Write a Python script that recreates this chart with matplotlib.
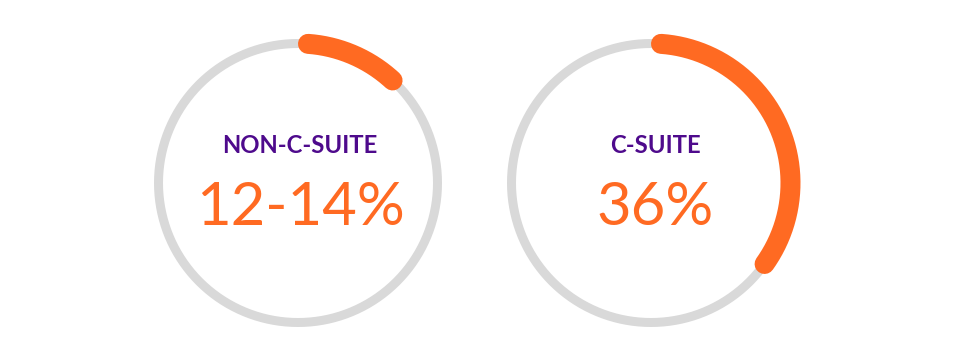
import numpy as np
import matplotlib
matplotlib.use("Agg")
import matplotlib.pyplot as plt

# Data
categories = ["NON-C-SUITE", "C-SUITE"]
values = [13, 36]            # percent of full circle filled
value_labels = ["12-14%", "36%"]

# Style
GRAY = "#D9D9D9"
ORANGE = "#FF6A22"
PURPLE = "#4E0A8C"

W, H = 960, 360
fig = plt.figure(figsize=(W / 100, H / 100), dpi=100)
ax = fig.add_axes([0, 0, 1, 1])
ax.set_xlim(0, W)
ax.set_ylim(H, 0)
ax.set_aspect("equal")
ax.axis("off")

px = 0.72  # points per pixel at dpi 100
ring_centers = [(298, 183), (651, 183)]
text_x = [300, 655]
R = 139.5
gray_w = 9
orange_w = 20
cap_ang = np.degrees((orange_w / 2) / R)

for (cx, cy), tx, cat, val, lab in zip(ring_centers, text_x, categories, values, value_labels):
    t = np.radians(np.linspace(0, 360, 721))
    ax.plot(cx + R * np.sin(t), cy - R * np.cos(t), color=GRAY, lw=gray_w * px,
            solid_capstyle="butt", zorder=1)
    end = val / 100 * 360
    t = np.radians(np.linspace(cap_ang, end - cap_ang, 300))
    ax.plot(cx + R * np.sin(t), cy - R * np.cos(t), color=ORANGE, lw=orange_w * px,
            solid_capstyle="round", zorder=2)
    ax.text(tx, 153, cat, ha="center", va="baseline", fontsize=17.2,
            fontweight="bold", color=PURPLE, family=["Lato", "DejaVu Sans"])
    ax.text(tx, 225, lab, ha="center", va="baseline", fontsize=43,
            color=ORANGE, family=["Lato", "DejaVu Sans"])

fig.savefig("out.png", dpi=100, facecolor="white")
